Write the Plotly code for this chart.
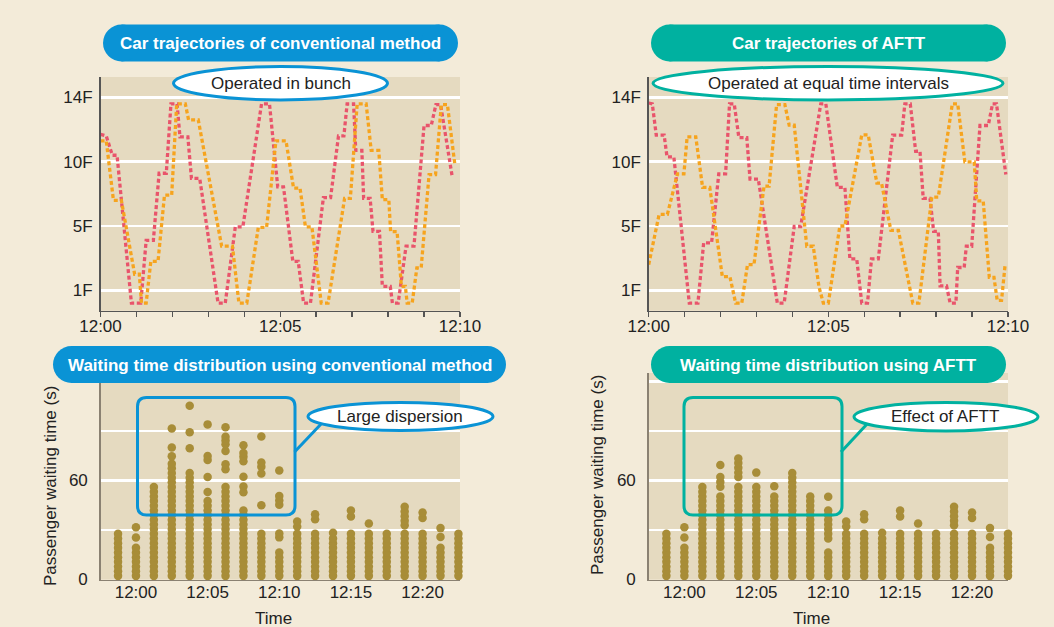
import numpy as np
import plotly.graph_objects as go

W, H = 1054, 627

# ------------------------------------------------------------------ data
# Car trajectories (time in minutes after 12:00, position in floors)
TOP_TIME_TICKS = [0, 1, 2, 3, 4, 5, 6, 7, 8, 9, 10]
TOP_TIME_LABELS = ["12:00", "", "", "", "", "12:05", "", "", "", "", "12:10"]
FLOOR_TICKS = [1, 5, 10, 14]
FLOOR_LABELS = ["1F", "5F", "10F", "14F"]
# the floor axis of the original is drawn with 1F/5F/10F/14F evenly spaced
FLOOR_SCALE_F = [-3, 1, 5, 10, 14, 18]
FLOOR_SCALE_D = [-0.9953, 0, 1, 2, 3, 3.9953]

conv_red_t = [0.00, 0.16, 0.33, 0.46, 0.86, 1.12, 1.27, 1.47, 1.63, 1.83, 1.96, 2.13,
              2.21, 2.43, 2.53, 2.76, 3.27, 3.47, 3.75, 3.96, 4.48, 4.70, 4.93, 5.09,
              5.35, 5.50, 5.65, 5.84, 6.20, 6.40, 6.62, 6.77, 6.86, 7.04, 7.10, 7.27,
              7.32, 7.50, 7.58, 7.76, 7.84, 8.06, 8.12, 8.28, 8.50, 8.72, 9.00, 9.20,
              9.33, 9.46, 9.78]
conv_red_f = [11.7, 11.6, 10.4, 10.4, 0.2, 0.2, 4.1, 4.1, 9.1, 9.1, 13.6, 13.6,
              11.55, 11.55, 8.7, 8.7, 0.2, 0.2, 4.95, 4.95, 13.6, 13.6, 8.05, 8.05,
              2.8, 2.8, 0.2, 0.2, 7.2, 7.2, 11.6, 11.6, 13.6, 13.6, 10.7, 10.7,
              7.15, 7.15, 4.67, 4.67, 1.25, 1.25, 0.2, 0.2, 3.75, 3.75, 12.25, 12.25,
              13.55, 13.55, 8.9]

conv_orange_t = [0.00, 0.16, 0.36, 0.58, 0.95, 1.08, 1.14, 1.27, 1.40, 1.60, 1.78, 1.98,
                 2.12, 2.36, 2.45, 2.72, 3.37, 3.67, 3.85, 4.07, 4.39, 4.62, 4.88, 5.16,
                 5.37, 5.55, 5.70, 5.88, 6.14, 6.33, 6.79, 6.95, 7.14, 7.39, 7.53, 7.74,
                 7.84, 8.02, 8.07, 8.25, 8.37, 8.48, 8.53, 8.67, 8.80, 8.92, 9.14, 9.32,
                 9.48, 9.65, 9.86]
conv_orange_f = [11.3, 11.3, 7.0, 7.0, 2.0, 2.0, 0.2, 0.2, 2.8, 2.8, 7.4, 7.4,
                 13.6, 13.6, 12.6, 12.6, 3.75, 3.75, 0.2, 0.2, 4.92, 4.92, 11.3, 11.3,
                 7.95, 7.95, 4.95, 4.95, 0.2, 0.2, 7.15, 7.15, 13.6, 13.6, 10.7, 10.7,
                 7.05, 7.05, 4.65, 4.65, 1.25, 1.25, 0.2, 0.2, 2.4, 2.4, 9.0, 9.0,
                 13.55, 13.55, 9.7]

aftt_red_t = [0.00, 0.10, 0.21, 0.43, 0.51, 0.70, 1.13, 1.37, 1.53, 1.75, 1.95, 2.14,
              2.25, 2.38, 2.51, 2.73, 2.82, 3.05, 3.58, 3.77, 4.05, 4.23, 4.79, 4.93,
              5.25, 5.46, 5.60, 5.79, 5.93, 6.09, 6.20, 6.39, 6.79, 7.04, 7.13, 7.28,
              7.43, 7.55, 7.64, 7.83, 7.93, 8.06, 8.11, 8.29, 8.39, 8.55, 8.60, 8.78,
              8.84, 8.99, 9.22, 9.45, 9.57, 9.68, 9.94]
aftt_red_f = [13.65, 13.6, 11.65, 11.65, 10.3, 10.3, 0.2, 0.2, 3.95, 3.95, 9.05, 9.05,
              13.6, 13.6, 11.5, 11.5, 8.65, 8.65, 0.2, 0.2, 4.97, 4.97, 13.6, 13.6,
              8.0, 8.0, 2.95, 2.95, 0.2, 0.2, 2.95, 2.95, 11.65, 11.65, 13.6, 13.6,
              10.65, 10.65, 7.15, 7.15, 4.67, 4.67, 1.27, 1.27, 0.2, 0.2, 2.42, 2.42,
              3.74, 3.74, 12.25, 12.25, 13.6, 13.6, 9.0]

aftt_orange_t = [0.00, 0.29, 0.52, 0.80, 0.98, 1.07, 1.31, 1.50, 1.70, 2.05, 2.26, 2.42,
                 2.59, 2.75, 2.93, 3.21, 3.35, 3.56, 3.79, 3.91, 4.05, 4.40, 4.58, 4.74,
                 4.86, 5.00, 5.32, 5.46, 5.93, 6.11, 6.35, 6.48, 6.74, 6.95, 7.35, 7.52,
                 7.88, 8.06, 8.45, 8.60, 8.80, 9.06, 9.13, 9.31, 9.48, 9.61, 9.70, 9.82,
                 9.92]
aftt_orange_f = [2.6, 5.9, 5.9, 9.05, 9.05, 11.55, 11.55, 8.0, 8.0, 1.85, 1.85, 0.2,
                 0.2, 2.6, 2.6, 8.1, 8.1, 13.55, 13.55, 12.27, 12.27, 3.74, 3.74, 1.2,
                 0.2, 0.2, 5.0, 5.0, 11.67, 11.67, 8.34, 8.34, 4.73, 4.73, 0.2, 0.2,
                 7.25, 7.25, 13.6, 13.6, 9.98, 9.98, 6.96, 6.96, 1.8, 1.8, 0.37, 0.37,
                 2.6]

# Passenger waiting times (s) per arrival slot (minutes after 12:00)
BOT_TIME_TICKS = [0, 5, 10, 15, 20]
BOT_TIME_LABELS = ["12:00", "12:05", "12:10", "12:15", "12:20"]
WAIT_TICKS = [0, 30, 60, 90, 120]
WAIT_LABELS = ["0", "", "60", "", ""]
COL_TIMES = [-2.5, -1.25, 0, 1.25, 2.5, 3.75, 5, 6.25, 7.5, 8.75, 10, 11.25, 12.5,
             13.75, 15, 16.25, 17.5, 18.75, 20, 21.25, 22.5]
# waiting-time values of the densely stacked passengers (shared ladder of values)
STACK_LEVELS = [2.2, 5.0, 7.9, 10.7, 13.5, 16.4, 19.2, 22.0, 24.8, 27.7, 30.5, 33.3,
                36.2, 39.0, 41.8, 44.6, 47.5, 50.3, 53.1, 56.0, 58.8, 61.6, 64.5, 67.3,
                70.1]
conv_stack = [10, 10, 7, 20, 25, 23, 17, 20, 15, 10, 6, 10, 10, 9, 10, 10, 10, 10, 10, 7, 10]
conv_extra = [[], [], [25.4, 31.6], [], [74.6, 79.9, 91.4], [79.4, 89.1, 105.2],
              [53.0, 62.1, 72.3, 74.8, 93.9],
              [66.8, 69.8, 77.8, 81.9, 84.2, 86.4, 92.1],
              [52.8, 56.3, 62.2, 71.6, 74.3, 76.6, 81.2],
              [45.0, 64.2, 68.2, 70.8, 86.6],
              [25.5, 27.9, 45.3, 47.8, 50.5, 66.0],
              [32.1, 35.1], [36.5, 39.5], [28.3], [38.2, 41.7], [33.9], [],
              [32.8, 35.6, 38.3, 41.2, 44.0], [37.2, 40.5], [25.8, 31.1], []]
aftt_stack = [10, 10, 7, 20, 18, 20, 20, 18, 23, 18, 6, 10, 10, 9, 10, 10, 10, 10, 10, 7, 10]
aftt_extra = [[], [], [25.4, 31.6], [], [56.1, 59.0, 62.0, 69.3],
              [62.0, 64.8, 67.7, 70.5, 73.3], [64.7], [56.5], [], [],
              [24.8, 27.7, 30.5, 33.3, 36.2, 39.0, 41.8, 50.1],
              [32.1, 35.1], [36.5, 39.5], [28.3], [38.2, 41.7], [33.9], [],
              [32.8, 35.6, 38.3, 41.2, 44.0], [37.2, 40.5], [25.8, 31.1], []]

# ------------------------------------------------------------------ style
FONT = "Liberation Sans, Arial, sans-serif"
FS = 17
PAPER = "#F3EBD9"
PLOTBG = "#E5DAC0"
BLUE = "#0A93D5"
TEAL = "#00B1A0"
RED = "#E9546B"
ORANGE = "#F6A41E"
DOT = "#A88D38"
TXT = "#222222"


def px(x):
    return x / W


def py(y):
    return 1 - y / H


def fdisp(f):
    return np.interp(f, FLOOR_SCALE_F, FLOOR_SCALE_D)


def stacked(stack, extra):
    xs, ys = [], []
    for t, n, ex in zip(COL_TIMES, stack, extra):
        vals = STACK_LEVELS[:n] + ex
        xs += [t] * len(vals)
        ys += vals
    return xs, ys


fig = go.Figure()

dash = "4px,2.6px"
for (t, f, c, xa, ya) in [
    (conv_red_t, conv_red_f, RED, "x", "y"),
    (conv_orange_t, conv_orange_f, ORANGE, "x", "y"),
    (aftt_red_t, aftt_red_f, RED, "x2", "y2"),
    (aftt_orange_t, aftt_orange_f, ORANGE, "x2", "y2"),
]:
    fig.add_trace(go.Scatter(x=t, y=fdisp(f), mode="lines", xaxis=xa, yaxis=ya,
                             line=dict(color=c, width=3.3, dash=dash),
                             hoverinfo="skip", cliponaxis=False))

for (stack, extra, xa, ya) in [(conv_stack, conv_extra, "x3", "y3"),
                               (aftt_stack, aftt_extra, "x4", "y4")]:
    xs, ys = stacked(stack, extra)
    fig.add_trace(go.Scatter(x=xs, y=ys, mode="markers", xaxis=xa, yaxis=ya,
                             marker=dict(color=DOT, size=8.5, line=dict(width=0)),
                             hoverinfo="skip", cliponaxis=False))

top_y_dom = [py(310.7), py(77)]
bot_y_dom = [py(579.5), py(373)]

xtop = dict(range=[0, 10], tickvals=TOP_TIME_TICKS, ticktext=TOP_TIME_LABELS,
            showgrid=False, zeroline=False, showline=True, linecolor="#555555",
            linewidth=1.5, ticks="outside", ticklen=5, tickwidth=1.5,
            tickcolor="#555555", ticklabelstandoff=-6,
            tickfont=dict(size=FS, color=TXT), fixedrange=True, automargin=False)
ytop = dict(range=[-0.317, 3.317], tickvals=list(fdisp(FLOOR_TICKS)),
            ticktext=FLOOR_LABELS, showgrid=True, gridcolor="white", gridwidth=2.5,
            zeroline=False, showline=True, linecolor="#555555", linewidth=1.5,
            ticks="", ticklabelstandoff=3, tickfont=dict(size=FS, color=TXT),
            fixedrange=True, automargin=False)
xbot = dict(tickvals=BOT_TIME_TICKS, ticktext=BOT_TIME_LABELS, showgrid=False,
            zeroline=False, showline=True, linecolor="#8A8172", linewidth=1.5,
            ticks="", ticklabelstandoff=-3, tickfont=dict(size=FS, color=TXT),
            fixedrange=True, automargin=False)
ybot = dict(range=[0, 125], tickvals=WAIT_TICKS, ticktext=WAIT_LABELS, showgrid=True,
            gridcolor="white", gridwidth=2.5, zeroline=False, showline=True,
            linecolor="#8A8172", linewidth=1.5, ticks="", ticklabelstandoff=8,
            tickfont=dict(size=FS, color=TXT), fixedrange=True, automargin=False)

fig.update_layout(
    width=W, height=H, margin=dict(l=0, r=0, t=0, b=0, pad=0, autoexpand=False),
    paper_bgcolor=PAPER, plot_bgcolor=PLOTBG, showlegend=False,
    font=dict(family=FONT, size=FS, color=TXT),
    xaxis=dict(xtop, domain=[px(100.5), px(460)], anchor="y"),
    yaxis=dict(ytop, domain=top_y_dom, anchor="x"),
    xaxis2=dict(xtop, domain=[px(648.7), px(1008)], anchor="y2"),
    yaxis2=dict(ytop, domain=top_y_dom, anchor="x2"),
    xaxis3=dict(xbot, range=[-2.46, 22.61], domain=[px(100.7), px(460)], anchor="y3"),
    yaxis3=dict(ybot, domain=bot_y_dom, anchor="x3"),
    xaxis4=dict(xbot, range=[-2.48, 22.5], domain=[px(648.7), px(1008)], anchor="y4"),
    yaxis4=dict(ybot, domain=bot_y_dom, anchor="x4"),
)

shapes = []
annotations = []


def pill(x0, x1, y0, y1, color, text):
    r = (y1 - y0) / 2
    common = dict(xref="paper", yref="paper", fillcolor=color, line=dict(width=0),
                  layer="above")
    shapes.append(dict(type="rect", x0=px(x0 + r), x1=px(x1 - r), y0=py(y1), y1=py(y0),
                       **common))
    shapes.append(dict(type="circle", x0=px(x0), x1=px(x0 + 2 * r), y0=py(y1), y1=py(y0),
                       **common))
    shapes.append(dict(type="circle", x0=px(x1 - 2 * r), x1=px(x1), y0=py(y1), y1=py(y0),
                       **common))
    annotations.append(dict(x=px((x0 + x1) / 2), y=py((y0 + y1) / 2 + 0.5),
                            xref="paper", yref="paper", text="<b>%s</b>" % text,
                            showarrow=False, xanchor="center", yanchor="middle",
                            font=dict(size=FS, color="white", family=FONT)))


def bubble(x0, x1, y0, y1, color, text, tx=None):
    shapes.append(dict(type="circle", xref="paper", yref="paper", x0=px(x0), x1=px(x1),
                       y0=py(y1), y1=py(y0), fillcolor="white",
                       line=dict(color=color, width=3), layer="above"))
    cx = (x0 + x1) / 2 if tx is None else tx
    annotations.append(dict(x=px(cx), y=py((y0 + y1) / 2), xref="paper", yref="paper",
                            text=text, showarrow=False, xanchor="center",
                            yanchor="middle", font=dict(size=FS, color=TXT, family=FONT)))


def P(x, y):
    return "%.5f,%.5f" % (px(x), py(y))


def rounded_box(x0, x1, y0, y1, r, color):
    path = ("M " + P(x0 + r, y0) + " L " + P(x1 - r, y0) + " Q " + P(x1, y0) + " " +
            P(x1, y0 + r) + " L " + P(x1, y1 - r) + " Q " + P(x1, y1) + " " +
            P(x1 - r, y1) + " L " + P(x0 + r, y1) + " Q " + P(x0, y1) + " " +
            P(x0, y1 - r) + " L " + P(x0, y0 + r) + " Q " + P(x0, y0) + " " +
            P(x0 + r, y0) + " Z")
    shapes.append(dict(type="path", xref="paper", yref="paper", path=path,
                       line=dict(color=color, width=3), fillcolor="rgba(0,0,0,0)",
                       layer="above"))


def connector(x0, y0, x1, y1, color):
    shapes.append(dict(type="line", xref="paper", yref="paper", x0=px(x0), y0=py(y0),
                       x1=px(x1), y1=py(y1), line=dict(color=color, width=3),
                       layer="above"))


pill(103, 458, 24.5, 61.5, BLUE, "Car trajectories of conventional method")
pill(651, 1006, 24.5, 61.5, TEAL, "Car trajectories of AFTT")
pill(53, 506, 346, 383, BLUE, "Waiting time distribution using conventional method")
pill(651, 1006, 346, 383, TEAL, "Waiting time distribution using AFTT")

bubble(173.5, 387.5, 66.5, 100, BLUE, "Operated in bunch")
bubble(653, 1003, 66.5, 100, TEAL, "Operated at equal time intervals")

rounded_box(137.5, 295, 397.5, 515, 9, BLUE)
rounded_box(684, 842, 397.5, 515, 9, TEAL)
connector(294.5, 452, 322, 423, BLUE)
connector(841, 452, 868, 423, TEAL)
bubble(308, 493, 402.5, 430.5, BLUE, "Large dispersion", tx=400)
bubble(854, 1038, 402.5, 431, TEAL, "Effect of AFTT", tx=945)

for (x, y) in [(273, 618), (811, 618)]:
    annotations.append(dict(x=px(x), y=py(y), xref="paper", yref="paper", text="Time",
                            showarrow=False, xanchor="center", yanchor="middle",
                            font=dict(size=FS, color=TXT, family=FONT)))
for (x, y) in [(50, 486), (597, 475)]:
    annotations.append(dict(x=px(x), y=py(y), xref="paper", yref="paper",
                            text="Passenger waiting time (s)", textangle=-90,
                            showarrow=False, xanchor="center", yanchor="middle",
                            font=dict(size=FS, color=TXT, family=FONT)))

fig.update_layout(shapes=shapes, annotations=annotations)
fig.write_html(
    "out.html",
    config={"displayModeBar": False, "staticPlot": True},
    post_script="document.body.style.margin='0px';"
                "document.body.style.padding='0px';"
                "document.body.style.overflow='hidden';"
                "document.body.style.background='%s';" % PAPER,
)
